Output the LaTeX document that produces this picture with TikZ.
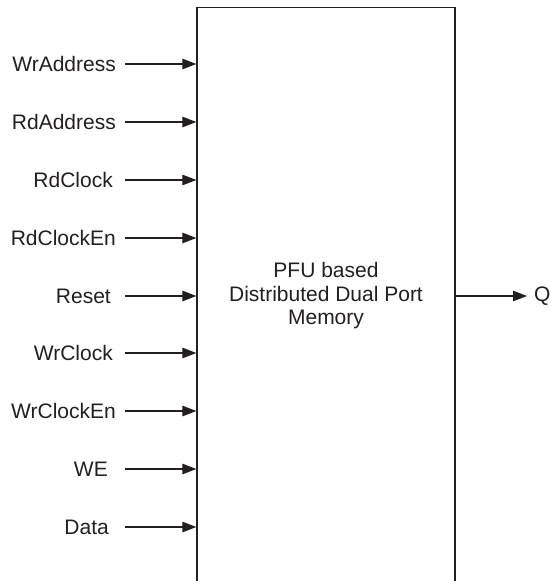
\documentclass[tikz,border=0pt]{standalone}
\usepackage{fontspec}
\setmainfont{Liberation Sans}
\usetikzlibrary{arrows.meta}
\definecolor{ink}{RGB}{35,31,32}
\begin{document}
\begin{tikzpicture}[x=1pt,y=-1pt,
  lbl/.style={anchor=east,inner sep=0pt,text=ink,font=\fontsize{21pt}{23.5pt}\selectfont},
  arr/.style={draw=ink,line width=1.1pt,-{Triangle[length=14pt,width=10.5pt]}},
  membox/.style={draw=ink,line width=1.3pt,minimum width=258pt,minimum height=577pt,inner sep=0pt,align=center,text=ink,font=\fontsize{21pt}{23.5pt}\selectfont}]
\useasboundingbox (0,0) rectangle (550,581);
\clip (0,0) rectangle (550,581);
\node[membox] (mem) at (326,296) {PFU based\\Distributed Dual Port\\Memory};
\foreach \t/\xe/\y [count=\i] in {WrAddress/116/64, RdAddress/116/122, RdClock/113/180, RdClockEn/116/238, Reset/111/296, WrClock/113/353, WrClockEn/116/411, WE/108/469, Data/109/527}{
  \node[lbl] (l\i) at (\xe,\y) {\t};
  \coordinate (s\i) at (125,\y);
  \draw[arr] (s\i) -- (s\i -| mem.west);
}
\coordinate (qe) at (527,296);
\node[lbl,anchor=west] (q) at (534,296) {Q};
\draw[arr] (qe -| mem.east) -- (qe);
\end{tikzpicture}
\end{document}
